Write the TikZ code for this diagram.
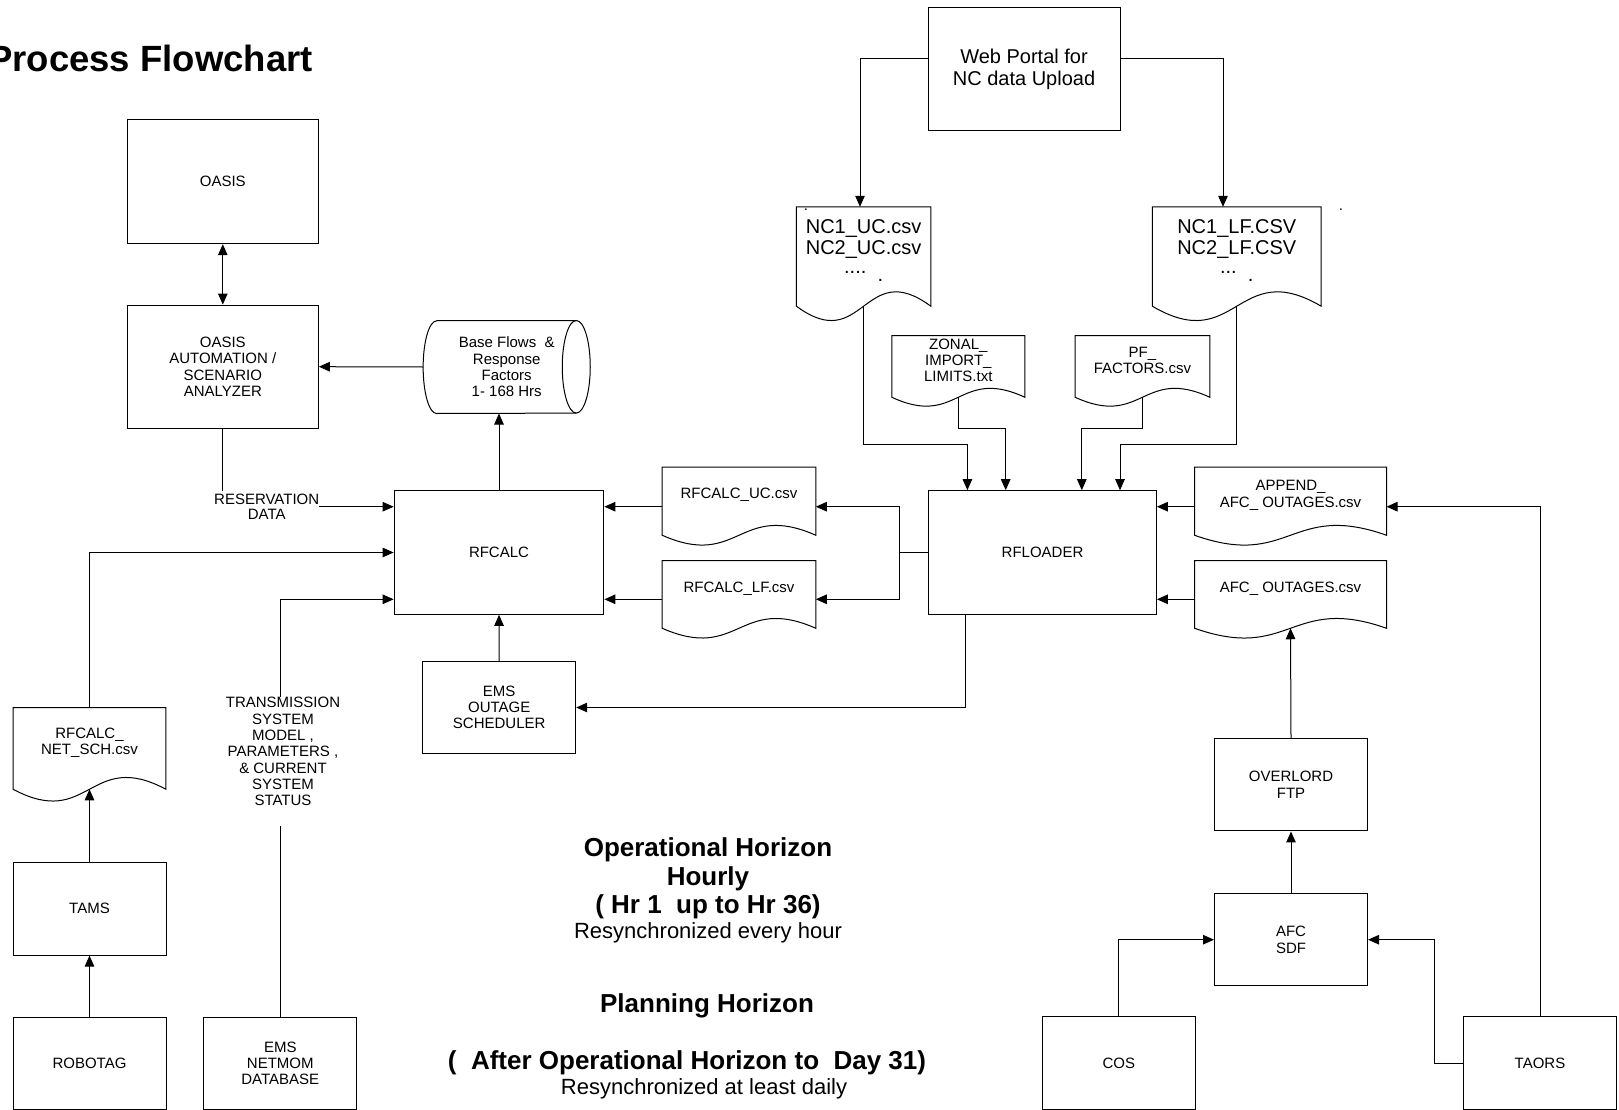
\documentclass[tikz,border=0pt]{standalone}
\usepackage{fontspec}
\setmainfont{Liberation Sans}
\usetikzlibrary{calc,arrows.meta}
\tikzset{
	box/.style={draw, line width=1pt, inner sep=0pt, minimum width=153pt, minimum height=92.5pt, align=center, font=\fontsize{15}{16.3}\selectfont},
	docfile/.style={inner sep=0pt, align=center, font=\fontsize{15}{16.3}\selectfont},
	note/.style={inner sep=0pt, align=center, font=\fontsize{15}{16.3}\selectfont},
	bignote/.style={inner sep=0pt, align=center, font=\bfseries\fontsize{26}{28.3}\selectfont},
	syncnote/.style={inner sep=0pt, align=center, font=\fontsize{22}{24}\selectfont},
	link/.style={line width=1pt},
	arr/.style={line width=1pt, -{Triangle[length=11pt,width=9.5pt]}},
	arrboth/.style={line width=1pt, {Triangle[length=11pt,width=9.5pt]}-{Triangle[length=11pt,width=9.5pt]}},
}
\def\docedge(#1){\coordinate (#1-foot) at ([yshift=-12pt]#1.south);
	\draw[line width=1pt] (#1.north west) -- (#1.north east) -- ([yshift=-12pt]#1.south east) .. controls ($(#1-foot)!0.5!(#1.north)$) and ($(#1-foot)!-0.5!(#1.north)$) .. ([yshift=-12pt]#1.south west) -- cycle;}

\begin{document}
\begin{tikzpicture}[x=1pt,y=-1pt]
			%%%%% START %%%%%
			\useasboundingbox (0,0) rectangle (1619,1110);
			
			\node[anchor=east, inner sep=0pt, font=\bfseries\fontsize{36.5}{40}\selectfont] (title) at (313,58) {Process Flowchart};
			
			\node[box, minimum width=190.5pt, minimum height=124.4pt] (oasis) at (222.8,181.5) {OASIS};
			\node[box, minimum width=191pt, minimum height=123.3pt] (oasisauto) at (222.8,366.7) {OASIS\\AUTOMATION /\\SCENARIO\\ANALYZER};
			\node[note, minimum width=166.7pt, minimum height=92.6pt] (basedb) at (506.7,367) {Base Flows\ \ \&\\Response\\Factors\\1- 168 Hrs};
			\draw[link] ([xshift=13.4pt]basedb.north west) -- ([xshift=-14pt]basedb.north east) arc[start angle=90, end angle=-90, x radius=14pt, y radius=46.3pt] -- ([xshift=13.4pt]basedb.south west) arc[start angle=270, end angle=90, x radius=13.4pt, y radius=46.3pt];
			\draw[link] ([xshift=-14pt]basedb.north east) arc[start angle=90, end angle=270, x radius=14pt, y radius=46.3pt];
			
			\node[box, minimum width=209.7pt, minimum height=123.6pt] (rfcalc) at (499,552.5) {RFCALC};
			\node[box] (emsout) at (499.2,707.5) {EMS\\OUTAGE\\SCHEDULER};
			\node[box, minimum width=227.8pt, minimum height=123.6pt] (rfloader) at (1042.5,552.5) {RFLOADER};
			\node[box, minimum width=192pt, minimum height=123.4pt, font=\fontsize{20}{22.3}\selectfont] (webportal) at (1024,69) {Web Portal for\\NC data Upload};
			
			% file sheets
			\node[docfile, minimum width=134pt, minimum height=87pt, font=\fontsize{20}{20.7}\selectfont] (nc1uc) at (863.6,250.5) {NC1\_UC.csv\\NC2\_UC.csv\\[6pt]\raisebox{8pt}{....}\ \ .};
			\node[docfile, minimum width=168.5pt, minimum height=87pt, font=\fontsize{20}{20.7}\selectfont] (nc1lf) at (1236.75,250.5) {NC1\_LF.CSV\\NC2\_LF.CSV\\[6pt]\raisebox{8pt}{...}\ \ .};
			\node[docfile, minimum width=132.6pt, minimum height=49.3pt] (zonal) at (958.3,360.4) {ZONAL\_\\IMPORT\_\\LIMITS.txt};
			\node[docfile, minimum width=134.3pt, minimum height=49.3pt] (pf) at (1142.45,360.4) {PF\_\\FACTORS.csv};
			\node[docfile, minimum width=153.2pt, minimum height=55.7pt] (rfcuc) at (739,495.2) {RFCALC\_UC.csv};
			\node[docfile, minimum width=153.2pt, minimum height=55.3pt] (rfclf) at (739,588.4) {RFCALC\_LF.csv};
			\node[docfile, minimum width=191.6pt, minimum height=55.7pt] (append) at (1290.5,495.2) {APPEND\_\\AFC\_ OUTAGES.csv};
			\node[docfile, minimum width=191.6pt, minimum height=55.3pt] (afcout) at (1290.5,588.4) {AFC\_ OUTAGES.csv};
			\node[docfile, minimum width=152.4pt, minimum height=69.3pt] (netsch) at (89.5,742.4) {RFCALC\_\\NET\_SCH.csv};
			\docedge(nc1uc) \docedge(nc1lf) \docedge(zonal) \docedge(pf)
			\docedge(rfcuc) \docedge(rfclf) \docedge(append) \docedge(afcout) \docedge(netsch)
			\node[note] (dota) at (806,210) {.};
			\node[note] (dotb) at (1341,210) {.};
			
			\node[box] (tams) at (89.5,908.8) {TAMS};
			\node[box] (robotag) at (89.5,1063.4) {ROBOTAG};
			\node[box] (emsnet) at (280.3,1063.4) {EMS\\NETMOM\\DATABASE};
			\node[box] (overlord) at (1291,784.7) {OVERLORD\\FTP};
			\node[box] (afcsdf) at (1291,939.7) {AFC\\SDF};
			\node[box] (cos) at (1118.9,1063.1) {COS};
			\node[box] (taors) at (1540,1063.1) {TAORS};
			
			\node[note, font=\fontsize{15}{15}\selectfont] (resv) at (266.7,506.5) {RESERVATION\\DATA};
			\node[note] (trans) at (283,751.7) {TRANSMISSION\\SYSTEM\\MODEL ,\\PARAMETERS ,\\\& CURRENT\\SYSTEM\\STATUS};
			
			\node[bignote] (ophz) at (708,878.3) {Operational Horizon\\Hourly\\( Hr 1\ \ up to Hr 36)};
			\node[syncnote] (ophzsync) at (708,933.3) {Resynchronized every hour};
			\node[bignote] (plhz) at (707,1006) {Planning Horizon};
			\node[bignote] (plhzrange) at (687,1062.7) {(\ \ After Operational Horizon to\ \ Day 31)};
			\node[syncnote] (plhzsync) at (704,1088.3) {Resynchronized at least daily};
			
			% rows and entry points
			\coordinate (ucrow) at (0,506.7);
			\coordinate (lfrow) at (0,599.3);
			\coordinate (ncrow) at (0,444.3);
			\coordinate (filerow) at (0,428.3);
			\coordinate (in1) at ([xshift=-75.1pt]rfloader.north);
			\coordinate (in2) at ([xshift=-36.8pt]rfloader.north);
			\coordinate (in3) at ([xshift=39.3pt]rfloader.north);
			\coordinate (in4) at ([xshift=77.5pt]rfloader.north);
			\coordinate (split) at ([xshift=-28.9pt]rfloader.west);
			
			\draw[arr] ([yshift=10.3pt]webportal.west) -| ([xshift=-3.6pt]nc1uc.north);
			\draw[arr] ([yshift=10.3pt]webportal.east) -| ([xshift=-13.75pt]nc1lf.north);
			\draw[arr] (nc1uc-foot) |- (ncrow -| in1) -- (in1);
			\draw[arr] (zonal-foot) |- (filerow -| in2) -- (in2);
			\draw[arr] (pf-foot) |- (filerow -| in3) -- (in3);
			\draw[arr] (nc1lf-foot) |- (ncrow -| in4) -- (in4);
			
			\draw[arrboth] (oasis.south) -- (oasisauto.north);
			\draw[arr] (basedb.west) -- (oasisauto.east);
			\draw[arr] (rfcalc.north) -- (rfcalc.north |- basedb.south);
			\draw[link] (oasisauto.south) -- ($(oasisauto.south |- resv.north)+(0,-3)$);
			\draw[arr] (resv.east |- ucrow) -- (rfcalc.west |- ucrow);
			\draw[arr] (netsch.north) |- (rfcalc.west);
			\draw[link] (emsnet.north) -- ($(emsnet.north |- trans.south)+(0,20)$);
			\draw[arr] (emsnet.north |- trans.north) |- (rfcalc.west |- lfrow);
			\draw[arr] (emsout.north) -- (rfcalc.south);
			\draw[arr] (tams.north) -- (netsch-foot);
			\draw[arr] (robotag.north) -- (tams.south);
			
			\draw[arr] (rfcuc.west |- ucrow) -- (rfcalc.east |- ucrow);
			\draw[arr] (rfclf.west |- lfrow) -- (rfcalc.east |- lfrow);
			\draw[link] (rfloader.west) -- (split);
			\draw[arr] (split) |- (rfcuc.east |- ucrow);
			\draw[arr] (split) |- (rfclf.east |- lfrow);
			\draw[arr] ($(rfloader.south)+(-76.6,0)$) |- (emsout.east);
			
			\draw[arr] (append.west |- ucrow) -- (rfloader.east |- ucrow);
			\draw[arr] (afcout.west |- lfrow) -- (rfloader.east |- lfrow);
			\draw[arr] (taors.north) |- (append.east |- ucrow);
			\draw[arr] (taors.west) -- ++(-28.2,0) |- (afcsdf.east);
			\draw[arr] (cos.north) |- (afcsdf.west);
			\draw[arr] (afcsdf.north) -- (overlord.south);
			\draw[arr] (overlord.north) -- (afcout-foot);
			
			%%%%% END %%%%%
\end{tikzpicture}
\end{document}
